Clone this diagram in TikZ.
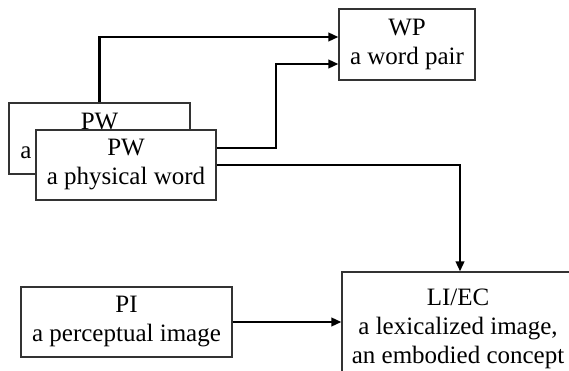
\documentclass[tikz,border=0pt]{standalone}
\usepackage{fontspec}
\setmainfont{Liberation Serif}
\usetikzlibrary{arrows.meta}
\begin{document}
\begin{tikzpicture}[x=1pt,y=-1pt,
  box/.style={draw=black!80,line width=1.2pt,fill=white,rectangle,inner sep=0pt,
    align=center,font=\fontsize{25}{29}\selectfont},
  conn/.style={line width=2.2pt,-{Triangle[length=10pt,width=8.5pt]}}]
\useasboundingbox (0,0) rectangle (569,371);
\clip (0,0) rectangle (569,371);
\node[box,minimum width=181pt,minimum height=71pt] (pwb) at (99.5,138.5) {PW\\a physical word};
\node[box,minimum width=180pt,minimum height=70pt] (pwf) at (126,165) {PW\\a physical word};
\node[box,minimum width=136pt,minimum height=71pt] (wp) at (407,44.5) {WP\\a word pair};
\node[box,minimum width=211pt,minimum height=70pt] (pi) at (126.5,322) {PI\\a perceptual image};
\node[box,minimum width=232pt,minimum height=113pt] (li) at (458,328.5) {LI/EC\\a lexicalized image,\\an embodied concept};
\coordinate (k1) at (276,64);
\draw[conn] (pwb.north) |- ([yshift=7.5pt]wp.west);
\draw[conn] ([yshift=17pt]pwf.east) -| (k1) -- ([yshift=-19.5pt]wp.west);
\draw[conn] (pwf.east) -| ([xshift=2pt]li.north);
\draw[conn] (pi.east) -- (pi.east -| li.west);
\end{tikzpicture}
\end{document}
